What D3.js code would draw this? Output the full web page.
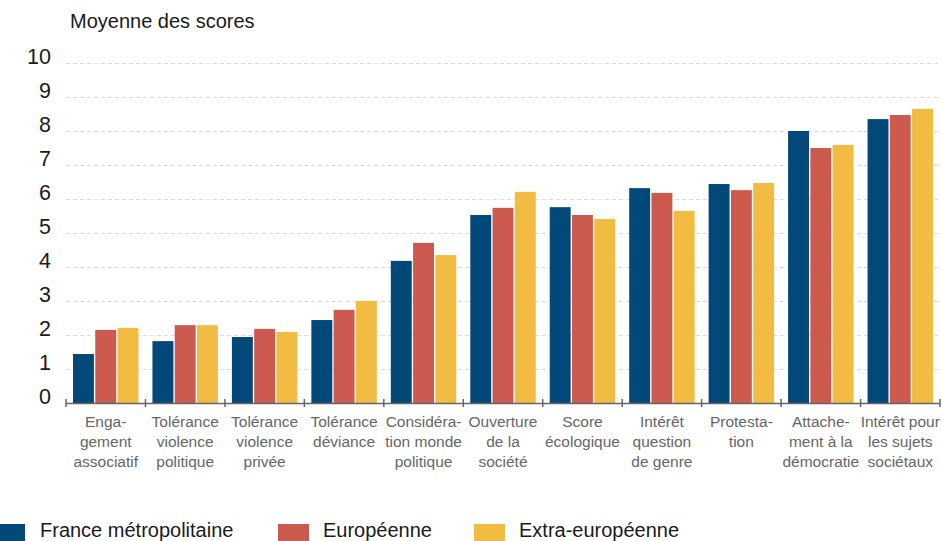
<!DOCTYPE html>
<html>
<head>
<meta charset="utf-8">
<script src="https://cdn.jsdelivr.net/npm/d3@7"></script>
<style>
  body { margin: 0; background: #fff; overflow: hidden; }
  text { font-family: "Liberation Sans", Arial, sans-serif; }
</style>
</head>
<body>
<div id="chart"></div>
<script>
// categories (split on lines as in the original)
const categories = [
    ["Enga-", "gement", "associatif"],
    ["Tolérance", "violence", "politique"],
    ["Tolérance", "violence", "privée"],
    ["Tolérance", "déviance"],
    ["Considéra-", "tion monde", "politique"],
    ["Ouverture", "de la", "société"],
    ["Score", "écologique"],
    ["Intérêt", "question", "de genre"],
    ["Protesta-", "tion"],
    ["Attache-", "ment à la", "démocratie"],
    ["Intérêt pour", "les sujets", "sociétaux"]
];

const seriesNames = ["France métropolitaine", "Européenne", "Extra-européenne"];
const france = [1.44, 1.82, 1.94, 2.44, 4.18, 5.53, 5.76, 6.32, 6.44, 8.0, 8.35];
const europe = [2.15, 2.29, 2.18, 2.74, 4.71, 5.74, 5.53, 6.18, 6.26, 7.5, 8.47];
const extra  = [2.21, 2.29, 2.09, 3.0, 4.35, 6.21, 5.41, 5.65, 6.47, 7.59, 8.65];
const yTicks = [0, 1, 2, 3, 4, 5, 6, 7, 8, 9, 10];

const colors = ["#02497a", "#cd5a4f", "#f2bb42"];

let width = 942, height = 541;
let margin = {left: 66, right: 2, top: 63, bottom: 138};
let plotW = width - margin.left - margin.right;
let plotH = height - margin.top - margin.bottom;

let svg = d3.select("#chart").append("svg")
    .attr("width", width)
    .attr("height", height);

let g = svg.append("g")
    .attr("transform", "translate(" + margin.left + "," + margin.top + ")");

let x0 = d3.scaleBand()
    .domain(d3.range(categories.length))
    .range([0, plotW])
    .paddingInner(0)
    .paddingOuter(0);

let x1 = d3.scaleBand()
    .domain(d3.range(seriesNames.length))
    .range([7, x0.bandwidth() - 7])
    .paddingInner(0.06);

let y = d3.scaleLinear()
    .domain([0, 10])
    .range([plotH, 0]);

// gridlines
g.selectAll(".grid")
    .data(yTicks.slice(1))
    .enter().append("line")
    .attr("class", "grid")
    .attr("x1", 0)
    .attr("x2", plotW)
    .attr("y1", d => y(d) + 0.5)
    .attr("y2", d => y(d) + 0.5)
    .attr("stroke", "#dcdcdc")
    .attr("stroke-width", 1)
    .attr("stroke-dasharray", "4,3");

// y labels
g.selectAll(".ylab")
    .data(yTicks)
    .enter().append("text")
    .attr("class", "ylab")
    .attr("x", -15)
    .attr("y", d => y(d) + 1)
    .attr("text-anchor", "end")
    .attr("font-size", "21.5px")
    .attr("fill", "#1a1a1a")
    .text(d => d);

svg.append("text")
    .attr("x", 70)
    .attr("y", 28)
    .attr("font-size", "20px")
    .attr("fill", "#1a1a1a")
    .text("Moyenne des scores");

// bars
let allSeries = [france, europe, extra];
allSeries.forEach(function (series, s) {
    g.selectAll(".bar" + s)
        .data(series)
        .enter().append("rect")
        .attr("class", "bar" + s)
        .attr("x", (d, i) => x0(i) + x1(s))
        .attr("width", x1.bandwidth())
        .attr("y", d => y(d))
        .attr("height", d => y(0) - y(d))
        .attr("fill", colors[s]);
});

// axis line + ticks
g.append("line")
    .attr("x1", 0).attr("x2", plotW)
    .attr("y1", plotH + 0.5).attr("y2", plotH + 0.5)
    .attr("stroke", "#666").attr("stroke-width", 1.5);

g.selectAll(".xtick")
    .data(d3.range(categories.length + 1))
    .enter().append("line")
    .attr("class", "xtick")
    .attr("x1", d => d === categories.length ? plotW : x0(d))
    .attr("x2", d => d === categories.length ? plotW : x0(d))
    .attr("y1", plotH - 4)
    .attr("y2", plotH + 4)
    .attr("stroke", "#666")
    .attr("stroke-width", 1.5);

// category labels
let labels = g.selectAll(".xlab")
    .data(categories)
    .enter().append("text")
    .attr("class", "xlab")
    .attr("text-anchor", "middle")
    .attr("font-size", "15.5px")
    .attr("fill", "#666");

labels.each(function (lines, i) {
    let t = d3.select(this);
    lines.forEach(function (line, k) {
        t.append("tspan")
            .attr("x", x0(i) + x0.bandwidth() / 2)
            .attr("y", plotH + 24 + k * 20)
            .text(line);
    });
});

// legend
let legendX = [0, 278, 474];
let legend = svg.selectAll(".legend")
    .data(seriesNames)
    .enter().append("g")
    .attr("class", "legend")
    .attr("transform", (d, i) => "translate(" + legendX[i] + ",524)");

legend.append("rect")
    .attr("width", (d, i) => i === 0 ? 25 : 31)
    .attr("height", 22)
    .attr("fill", (d, i) => colors[i]);

legend.append("text")
    .attr("x", (d, i) => i === 0 ? 40 : 45)
    .attr("y", 13)
    .attr("font-size", "20px")
    .attr("fill", "#1a1a1a")
    .text(d => d);
</script>
</body>
</html>
